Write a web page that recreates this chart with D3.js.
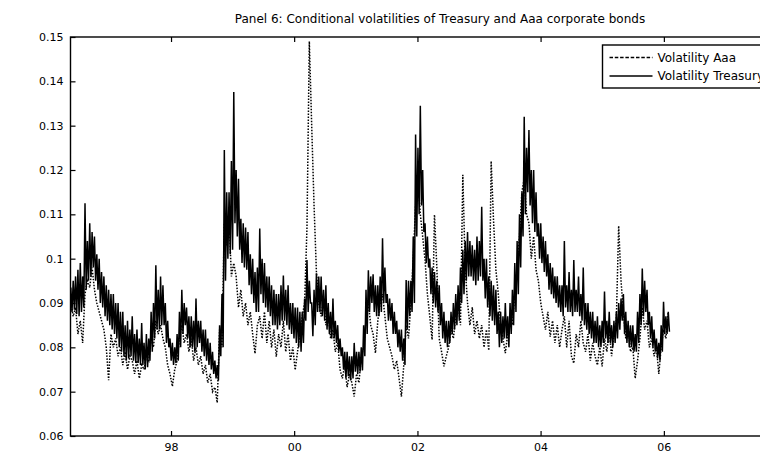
<!DOCTYPE html>
<html>
<head>
<meta charset="utf-8">
<script src="https://cdn.jsdelivr.net/npm/d3@7"></script>
<style>
  html, body { margin: 0; padding: 0; background: #fff; }
  svg { display: block; }
  text { font-family: "DejaVu Sans", sans-serif; fill: #000; }
</style>
</head>
<body>
<svg id="chart" width="760" height="456"></svg>
<script>
// Sampling: Treasury weekly, Aaa biweekly, both from mid-May 1996
const startDate = new Date(1996, 4, 17);
const treasuryStepDays = 7;
const aaaStepDays = 14;

// Conditional volatility of Treasury bond returns (weekly)
const volTreasury = [
  .0935,.0880,.0950,.0885,.0960,.0875,.0975,.0870,.0990,.0880,.0960,.0890,.1125,.0930,.1040,.0950,.1080,.0960,.1060,.0980,
  .1050,.0950,.1010,.0930,.1000,.0900,.0970,.0890,.0960,.0870,.0940,.0860,.0930,.0850,.0920,.0840,.0920,.0830,.0900,.0820,
  .0900,.0800,.0880,.0790,.0880,.0780,.0850,.0770,.0860,.0775,.0840,.0780,.0870,.0770,.0830,.0765,.0840,.0765,.0820,.0760,
  .0855,.0760,.0810,.0750,.0830,.0755,.0820,.0770,.0880,.0790,.0900,.0820,.0985,.0840,.0930,.0840,.0960,.0850,.0940,.0850,
  .0900,.0810,.0860,.0800,.0820,.0770,.0810,.0760,.0800,.0765,.0830,.0770,.0880,.0800,.0930,.0830,.0900,.0850,.0890,.0820,
  .0870,.0800,.0870,.0800,.0860,.0790,.0910,.0800,.0860,.0810,.0860,.0790,.0840,.0780,.0840,.0770,.0820,.0760,.0810,.0750,
  .0790,.0740,.0770,.0730,.0760,.0725,.0850,.0780,.0920,.0800,.1245,.0950,.1150,.1000,.1150,.1010,.1220,.1020,.1376,.1080,
  .1200,.1050,.1180,.1020,.1090,.0990,.1080,.0980,.1070,.0975,.1060,.0940,.1010,.0920,.1000,.0900,.0970,.0880,.0980,.0880,
  .1068,.0920,.1000,.0900,.0990,.0890,.0960,.0880,.0960,.0870,.0940,.0850,.0930,.0850,.0920,.0840,.0920,.0850,.0940,.0860,
  .0962,.0860,.0930,.0850,.0940,.0840,.0900,.0830,.0900,.0820,.0890,.0810,.0890,.0800,.0880,.0790,.0880,.0810,.0910,.0860,
  .0997,.0880,.0950,.0900,.0900,.0825,.0930,.0850,.0967,.0880,.0960,.0880,.0960,.0870,.0930,.0860,.0940,.0840,.0900,.0830,
  .0880,.0820,.0910,.0820,.0860,.0810,.0850,.0790,.0820,.0780,.0800,.0750,.0790,.0730,.0790,.0735,.0780,.0725,.0780,.0730,
  .0810,.0745,.0790,.0740,.0790,.0745,.0800,.0748,.0850,.0780,.0930,.0830,.0974,.0880,.0960,.0900,.0965,.0880,.0940,.0870,
  .0940,.0870,.0960,.0880,.1046,.0900,.0980,.0900,.0920,.0860,.0910,.0860,.0900,.0830,.0880,.0830,.0860,.0800,.0840,.0790,
  .0840,.0770,.0820,.0760,.0952,.0840,.0950,.0870,.0950,.0880,.1050,.0900,.1280,.1050,.1250,.1100,.1345,.1120,.1200,.1060,
  .1080,.0990,.1050,.0980,.1000,.0920,.0980,.0900,.0970,.0890,.0950,.0880,.0940,.0850,.0900,.0820,.0880,.0810,.0860,.0800,
  .0860,.0810,.0880,.0830,.0900,.0840,.0920,.0850,.0940,.0860,.0980,.0900,.1020,.0920,.1040,.0950,.1060,.0960,.1040,.0960,
  .1030,.0950,.1020,.0940,.1050,.0950,.1040,.0960,.1117,.0950,.1000,.0910,.1000,.0890,.0960,.0870,.0950,.0860,.0940,.0850,
  .0930,.0830,.0880,.0800,.0880,.0810,.0870,.0820,.0900,.0820,.0870,.0800,.0900,.0830,.0930,.0850,.0990,.0880,.1040,.0920,
  .1100,.0980,.1150,.1050,.1320,.1100,.1250,.1150,.1290,.1120,.1200,.1080,.1200,.1060,.1150,.1050,.1080,.1000,.1080,.0990,
  .1050,.0970,.1040,.0960,.1010,.0930,.0990,.0920,.0980,.0910,.0960,.0900,.0960,.0890,.0940,.0880,.0940,.0870,.1040,.0890,
  .0940,.0880,.0970,.0880,.0930,.0870,.0997,.0880,.0930,.0880,.0960,.0870,.0920,.0860,.0980,.0850,.0900,.0840,.0900,.0830,
  .0880,.0820,.0880,.0810,.0860,.0810,.0870,.0800,.0850,.0800,.0860,.0810,.0926,.0820,.0860,.0810,.0880,.0810,.0850,.0800,
  .0860,.0810,.0880,.0820,.0900,.0840,.0910,.0860,.0920,.0830,.0880,.0810,.0860,.0800,.0850,.0800,.0850,.0790,.0830,.0790,
  .0880,.0810,.0920,.0850,.0978,.0870,.0950,.0880,.0930,.0850,.0880,.0820,.0870,.0800,.0840,.0790,.0820,.0775,.0810,.0770,
  .0850,.0790,.0903,.0830,.0870,.0830,.0880,.0835
];

// Conditional volatility of Aaa corporate bond returns (biweekly)
const volAaa = [
  .0900,.0870,.0890,.0830,.0860,.0810,.0920,.0950,.0935,.0980,
  .0930,.0900,.0880,.0860,.0840,.0800,.0726,.0830,.0800,.0820,
  .0780,.0800,.0760,.0790,.0750,.0780,.0770,.0740,.0770,.0730,
  .0760,.0750,.0780,.0770,.0820,.0800,.0860,.0830,.0850,.0820,
  .0800,.0760,.0740,.0712,.0750,.0770,.0820,.0850,.0810,.0830,
  .0790,.0820,.0770,.0800,.0760,.0780,.0740,.0760,.0720,.0740,
  .0700,.0710,.0675,.0840,.0800,.1080,.1030,.1090,.0960,.0990,
  .0960,.0890,.0930,.0870,.0900,.0850,.0880,.0830,.0786,.0850,
  .0870,.0820,.0880,.0810,.0860,.0800,.0840,.0779,.0830,.0800,
  .0860,.0790,.0830,.0770,.0800,.0749,.0790,.0830,.0870,.0900,
  .1070,.1490,.1300,.1120,.0970,.0900,.0870,.0910,.0850,.0880,
  .0820,.0840,.0790,.0810,.0750,.0730,.0760,.0710,.0740,.0720,
  .0689,.0740,.0720,.0780,.0800,.0860,.0900,.0850,.0830,.0787,
  .0860,.0900,.0920,.0870,.0820,.0800,.0780,.0750,.0770,.0730,
  .0689,.0760,.0850,.0820,.0900,.1000,.1120,.1178,.1100,.1050,
  .0997,.0920,.0870,.0817,.1099,.0980,.0820,.0790,.0757,.0780,
  .0800,.0840,.0820,.0870,.0900,.0850,.1189,.0980,.0900,.0850,
  .0890,.0830,.0860,.0820,.0850,.0800,.0840,.0793,.1220,.1087,
  .0975,.0922,.0850,.0820,.0787,.0830,.0860,.0850,.0920,.0980,
  .1050,.1150,.1180,.1100,.1080,.1000,.1050,.0975,.0950,.0900,
  .0870,.0840,.0880,.0824,.0860,.0810,.0850,.0800,.0840,.0870,
  .0800,.0860,.0780,.0764,.0830,.0800,.0860,.0810,.0790,.0830,
  .0770,.0810,.0780,.0760,.0800,.0757,.0820,.0790,.0840,.0780,
  .0830,.0860,.1074,.0950,.0880,.0820,.0850,.0790,.0800,.0730,
  .0770,.0820,.0890,.0840,.0860,.0800,.0820,.0780,.0800,.0740,
  .0800,.0840,.0820,.0880
];

const yTicks = [0.06, 0.07, 0.08, 0.09, 0.1, 0.11, 0.12, 0.13, 0.14, 0.15];
const xTickYears = [1998, 2000, 2002, 2004, 2006];
const titleText = "Panel 6: Conditional volatilities of Treasury and Aaa corporate bonds";
const legendLabels = ["Volatility Aaa", "Volatility Treasury"];

const treasuryDates = volTreasury.map((_, i) => d3.timeDay.offset(startDate, treasuryStepDays * i));
const aaaDates = volAaa.map((_, i) => d3.timeDay.offset(startDate, aaaStepDays * i));

const svg = d3.select("#chart");
const plotLeft = 70.5, plotRight = 787, plotTop = 37, plotBottom = 436;

const x = d3.scaleTime()
  .domain([new Date(1996, 4, 15), new Date(2008, 0, 1)])
  .range([plotLeft, plotRight]);
const y = d3.scaleLinear()
  .domain([0.06, 0.15])
  .range([plotBottom, plotTop]);

const xTicks = xTickYears.map(yr => new Date(yr, 0, 1));
const fmtYear = d3.timeFormat("%y");

// Plot body
svg.append("clipPath").attr("id", "plotclip")
  .append("rect").attr("x", plotLeft).attr("y", plotTop)
  .attr("width", plotRight - plotLeft).attr("height", plotBottom - plotTop);

const plot = svg.append("g").attr("clip-path", "url(#plotclip)");

const lineFor = dates => d3.line().x((d, i) => x(dates[i])).y(d => y(d));

plot.append("path").datum(volAaa)
  .attr("fill", "none").attr("stroke", "#000")
  .attr("stroke-width", 1.5).attr("stroke-dasharray", "1.5,1.5")
  .attr("d", lineFor(aaaDates));

plot.append("path").datum(volTreasury)
  .attr("fill", "none").attr("stroke", "#000")
  .attr("stroke-width", 1.5).attr("stroke-linejoin", "miter")
  .attr("d", lineFor(treasuryDates));

// Axes with inward ticks on all sides
const axisStyle = g => {
  g.select(".domain").remove();
  g.selectAll(".tick line").attr("stroke", "#000").attr("stroke-width", 1.2);
  g.selectAll(".tick text").style("font-size", "11px").attr("fill", "#000");
};

svg.append("g").attr("transform", `translate(${plotLeft},0)`)
  .call(d3.axisLeft(y).tickValues(yTicks).tickFormat(d => String(d))
    .tickSize(-5).tickPadding(7))
  .call(axisStyle);

svg.append("g").attr("transform", `translate(${plotRight},0)`)
  .call(d3.axisRight(y).tickValues(yTicks).tickFormat("").tickSize(-5))
  .call(axisStyle);

svg.append("g").attr("transform", `translate(0,${plotBottom})`)
  .call(d3.axisBottom(x).tickValues(xTicks).tickFormat(fmtYear)
    .tickSize(-5).tickPadding(7))
  .call(axisStyle);

svg.append("g").attr("transform", `translate(0,${plotTop})`)
  .call(d3.axisTop(x).tickValues(xTicks).tickFormat("").tickSize(-5))
  .call(axisStyle);

// Frame
svg.append("rect")
  .attr("x", plotLeft).attr("y", plotTop)
  .attr("width", plotRight - plotLeft).attr("height", plotBottom - plotTop)
  .attr("fill", "none").attr("stroke", "#000").attr("stroke-width", 1.4);

// Title
svg.append("text")
  .attr("x", 440).attr("y", 23)
  .attr("text-anchor", "middle")
  .style("font-size", "12px")
  .text(titleText);

// Legend
const lg = svg.append("g").attr("transform", "translate(602.5,45)");
lg.append("rect").attr("width", 200).attr("height", 43)
  .attr("fill", "#fff").attr("stroke", "#000").attr("stroke-width", 1.4);
const rows = [
  { label: legendLabels[0], dash: "3.5,1.8" },
  { label: legendLabels[1], dash: null }
];
rows.forEach((r, i) => {
  const cy = 12.5 + i * 18.5;
  lg.append("line").attr("x1", 7).attr("x2", 50).attr("y1", cy).attr("y2", cy)
    .attr("stroke", "#000").attr("stroke-width", 1.3)
    .attr("stroke-dasharray", r.dash);
  lg.append("text").attr("x", 55).attr("y", cy + 4)
    .style("font-size", "12px").text(r.label);
});
</script>
</body>
</html>
